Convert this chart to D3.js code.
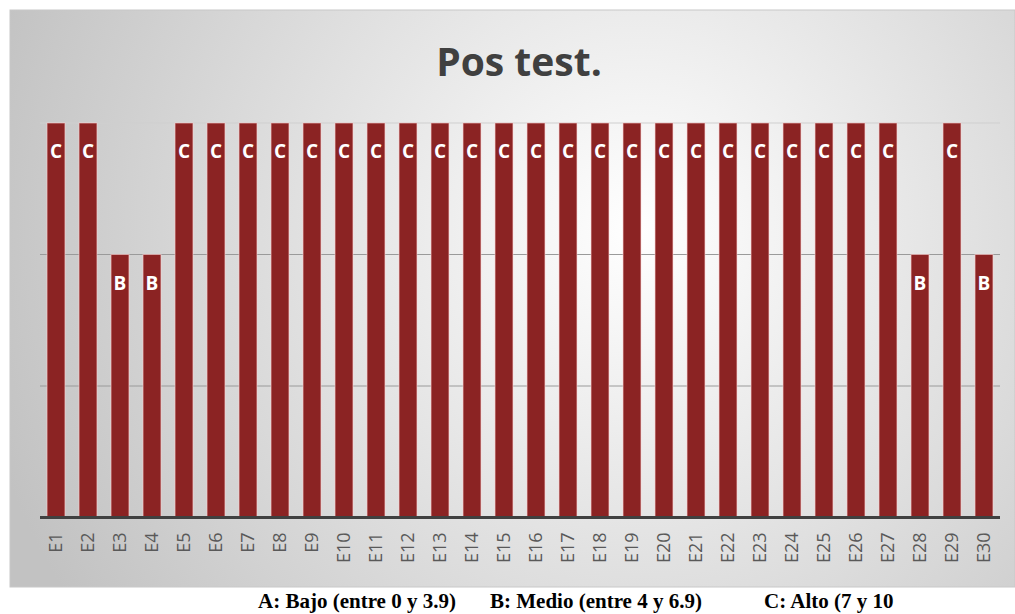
<!DOCTYPE html>
<html>
<head>
<meta charset="utf-8">
<script src="https://cdn.jsdelivr.net/npm/d3@7"></script>
<style>
  body { margin: 0; background: #fff; }
  svg { display: block; }
</style>
</head>
<body>
<div id="canvas"></div>
<script>
// data
const students = d3.range(1, 31).map(i => 'E' + i);
const levels = ['C','C','B','B','C','C','C','C','C','C','C','C','C','C','C',
                'C','C','C','C','C','C','C','C','C','C','C','C','B','C','B'];
const levelValue = { A: 1, B: 2, C: 3 };
const yTicks = [1, 2, 3];
const legendItems = ['A: Bajo (entre 0 y 3.9)', 'B: Medio (entre 4 y 6.9)', 'C: Alto (7 y 10'];

const w = 1015,
    h = 614,
    plotLeft = 40,
    plotRight = 1000,
    plotTop = 123,
    plotBottom = 517.5,
    barColor = '#8b2323',
    textColor = '#404040';

const svg = d3.select('#canvas').append('svg')
    .attr('width', w)
    .attr('height', h);

// radial background like the spreadsheet chart area
const grad = svg.append('defs').append('radialGradient')
    .attr('id', 'bg')
    .attr('gradientUnits', 'userSpaceOnUse')
    .attr('cx', 640).attr('cy', 230).attr('r', 680);
grad.append('stop').attr('offset', '0%').attr('stop-color', '#ffffff');
grad.append('stop').attr('offset', '100%').attr('stop-color', '#c2c2c2');

svg.append('rect')
    .attr('x', 10).attr('y', 10)
    .attr('width', w - 10).attr('height', 577)
    .attr('fill', 'url(#bg)')
    .attr('stroke', '#c8c8c8');

const x = d3.scaleBand()
    .domain(students)
    .range([plotLeft, plotRight])
    .paddingInner(0.44)
    .paddingOuter(0.22);

const y = d3.scaleLinear()
    .domain([0, 3])
    .range([plotBottom, plotTop]);

// gridlines
svg.append('g')
    .selectAll('line')
    .data(yTicks)
    .join('line')
    .attr('x1', plotLeft).attr('x2', plotRight)
    .attr('y1', d => y(d)).attr('y2', d => y(d))
    .attr('stroke', d => d === 3 ? '#cfcfcf' : '#9a9a9a')
    .attr('stroke-width', 1);

// bars
svg.append('g')
    .selectAll('rect')
    .data(students)
    .join('rect')
    .attr('x', d => x(d))
    .attr('width', x.bandwidth())
    .attr('y', (d, i) => y(levelValue[levels[i]]))
    .attr('height', (d, i) => plotBottom - y(levelValue[levels[i]]))
    .attr('fill', barColor)
    .attr('stroke', 'rgba(255,210,210,0.6)')
    .attr('stroke-width', 1);

// letters inside bars
svg.append('g')
    .selectAll('text')
    .data(students)
    .join('text')
    .attr('x', d => x(d) + x.bandwidth() / 2)
    .attr('y', (d, i) => y(levelValue[levels[i]]) + 35)
    .attr('text-anchor', 'middle')
    .attr('fill', '#ffffff')
    .style('font-family', 'Open Sans')
    .style('font-weight', 'bold')
    .style('font-size', '19px')
    .text((d, i) => levels[i]);

// x axis
const xAxis = svg.append('g')
    .attr('transform', 'translate(0,' + plotBottom + ')')
    .call(d3.axisBottom(x).tickSize(0).tickPadding(0));
xAxis.attr('font-size', null).attr('font-family', null);
xAxis.select('.domain')
    .attr('d', 'M' + plotLeft + ',0H' + plotRight)
    .attr('stroke', '#404040')
    .attr('stroke-width', 3);
xAxis.selectAll('text')
    .attr('transform', 'rotate(-90)')
    .attr('x', -15)
    .attr('y', 0)
    .attr('dy', '0.36em')
    .attr('text-anchor', 'end')
    .attr('fill', '#595959')
    .style('font-family', 'Open Sans')
    .style('font-size', '18px');

// title
svg.append('text')
    .attr('x', 519)
    .attr('y', 76)
    .attr('text-anchor', 'middle')
    .attr('fill', textColor)
    .style('font-family', 'Open Sans')
    .style('font-weight', 'bold')
    .style('font-size', '39px')
    .text('Pos test.');

// legend note under the chart
const legendX = [258, 490, 764];
svg.append('g')
    .selectAll('text')
    .data(legendItems)
    .join('text')
    .attr('x', (d, i) => legendX[i])
    .attr('y', 608)
    .attr('fill', '#000')
    .style('font-family', 'Liberation Serif')
    .style('font-weight', 'bold')
    .style('font-size', '21px')
    .text(d => d);
</script>
</body>
</html>
